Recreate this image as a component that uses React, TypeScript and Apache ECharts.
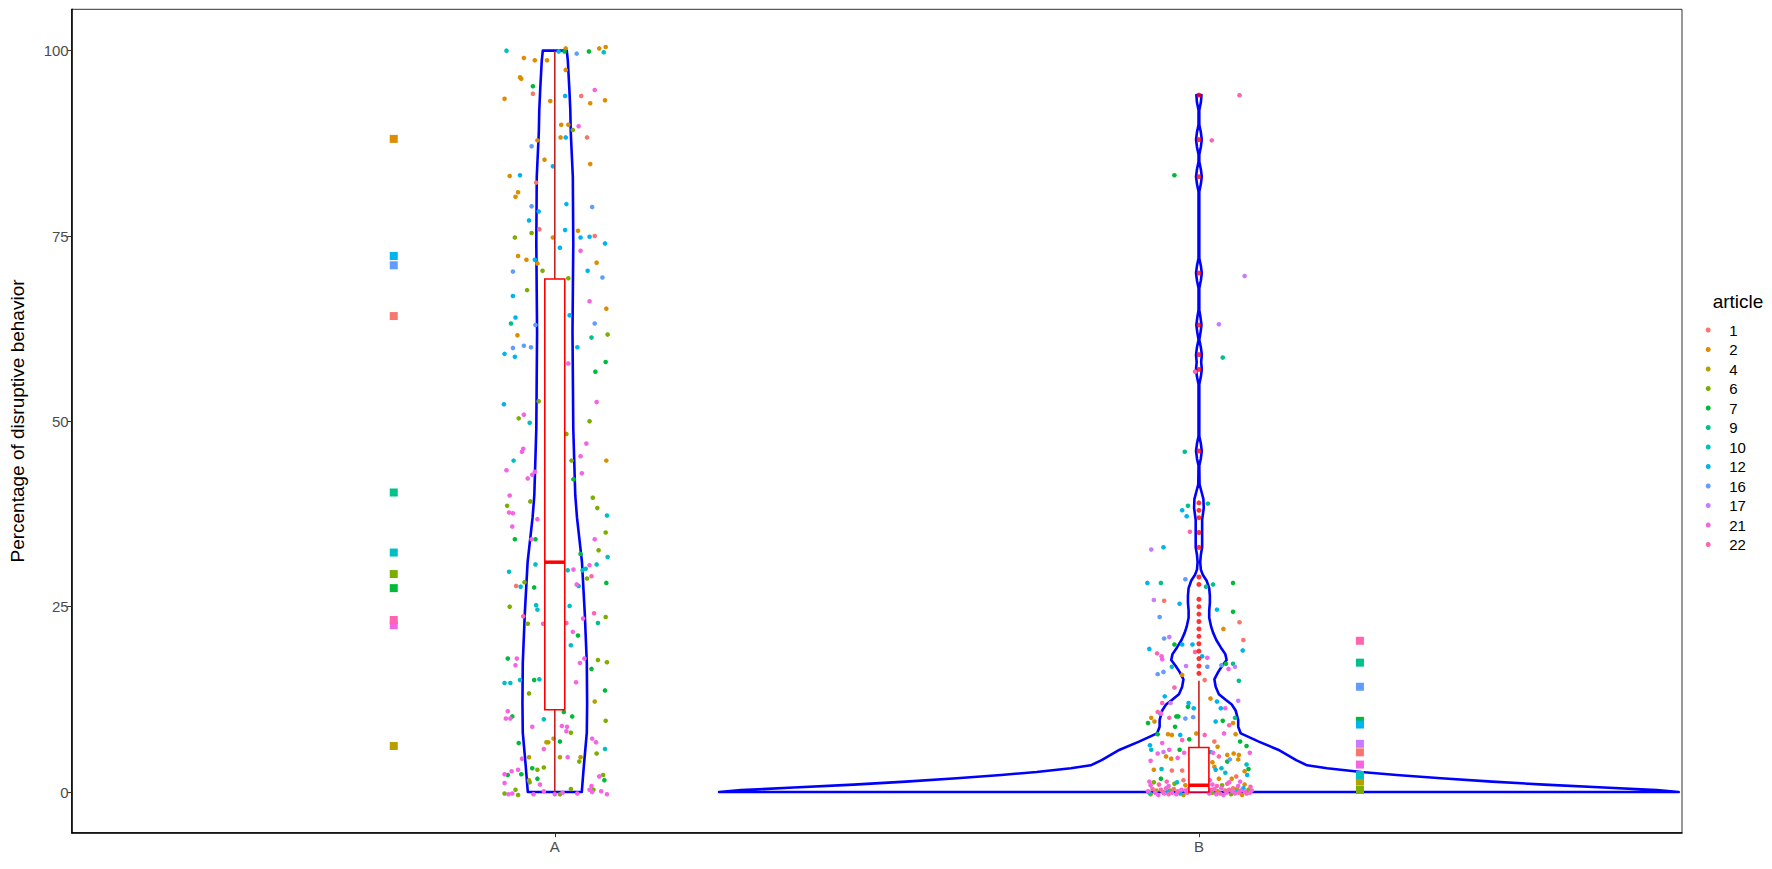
import React, { useEffect, useRef } from "react";
import * as echarts from "echarts";

// ---------- data ----------
const groups = ["A", "B"];
const articles = ["1", "2", "4", "6", "7", "9", "10", "12", "16", "17", "21", "22"];
const palette = ["#F8766D", "#DE8C00", "#B79F00", "#7CAE00", "#00BA38", "#00C08B", "#00BFC4", "#00B4F0", "#619CFF", "#C77CFF", "#F564E3", "#FF64B0"];
const yTicks = [0, 25, 50, 75, 100];

// per-article means (squares), in article order; null = no data in that phase
const meansA = [64.2, 88.1, 6.2, 29.4, 27.5, 40.4, 32.3, 72.3, 71.05, null, 22.5, 23.2];
const meansB = [5.35, 1.85, 1.4, 0.27, 9.6, 17.45, 2.3, 9.1, 14.2, 6.5, 3.7, 20.4];

// boxplot stats: [lower whisker, Q1, median, Q3, upper whisker]
const boxA = [0, 11.1, 31, 69.2, 100];
const boxB = [0, 0, 0.9, 6, 15];
const outliersB = [16, 17, 18, 19, 20, 21, 22, 23, 24, 25, 26, 28, 29, 33, 35, 37, 38, 39, 46, 57, 59, 63, 70, 83, 88, 94];

// violin profiles: [value, half width in x units]
const violinA = [
  [0, 0.0419], [3.4, 0.045], [8, 0.0497], [12, 0.0502], [17.4, 0.0497], [24, 0.0466], [31, 0.0422],
  [37, 0.0345], [40, 0.0318], [49, 0.0287], [62, 0.0275], [74, 0.0287], [83, 0.028], [89, 0.0248],
  [92, 0.0241], [95, 0.0225], [98.7, 0.0202], [100, 0.0186],
];
const violinB = [
  [0, 0.745], [0.25, 0.711], [0.6, 0.629], [1.0, 0.536], [1.4, 0.455], [1.85, 0.376], [2.3, 0.307],
  [2.7, 0.252], [3.2, 0.199], [3.6, 0.168], [4.3, 0.151], [5.0, 0.137], [5.7, 0.123], [6.8, 0.093],
  [7.9, 0.065], [8.8, 0.061], [9.7, 0.061], [11.0, 0.057], [11.8, 0.051], [12.4, 0.042], [13.2, 0.031],
  [14.2, 0.026], [15.2, 0.024], [16.2, 0.03], [17.0, 0.036], [17.8, 0.043], [18.6, 0.041], [19.5, 0.034],
  [20.5, 0.027], [21.5, 0.022], [22.3, 0.019], [23.5, 0.016], [24.5, 0.016], [25.5, 0.017], [26.5, 0.017],
  [27.5, 0.016], [28.5, 0.012], [29.3, 0.006], [30.0, 0.003], [31.0, 0.002], [32.0, 0.003], [33.0, 0.005],
  [34.5, 0.005], [36.7, 0.005], [38.3, 0.0075], [39.5, 0.007], [40.5, 0.004], [41.5, 0.001],
  [44.0, 0.0006], [45.0, 0.003], [46.0, 0.0045], [47.0, 0.003], [48.0, 0.0006],
  [55.0, 0.0006], [56.0, 0.003], [57.0, 0.0045], [58.0, 0.0035], [59.0, 0.0045], [60.0, 0.003], [61.0, 0.0006],
  [62.0, 0.0025], [63.0, 0.004], [64.0, 0.0025], [65.0, 0.0006],
  [68.0, 0.0006], [69.0, 0.003], [70.0, 0.0045], [71.0, 0.003], [72.0, 0.0006],
  [81.0, 0.0006], [82.0, 0.003], [83.0, 0.0045], [84.0, 0.003], [85.0, 0.0006],
  [86.0, 0.0006], [87.0, 0.003], [88.0, 0.0045], [89.0, 0.003], [90.0, 0.0006],
  [92.0, 0.0006], [93.0, 0.003], [94.0, 0.004],
];

// jittered observations: [x position, percentage, article]
const jitterA = [
  [0.925, 100.0, 10], [0.952, 99.0, 2], [0.969, 98.7, 2], [0.988, 98.7, 2], [1.006, 99.9, 12], [1.017, 100.3, 2], [1.015, 99.9, 7], [1.034, 99.6, 16], [1.053, 99.9, 7], [1.069, 100.3, 2], [1.079, 100.5, 2], [1.076, 99.8, 10],
  [0.946, 96.4, 2], [0.948, 96.2, 2], [0.966, 95.2, 7], [0.966, 94.2, 1], [0.922, 93.5, 2], [1.017, 97.4, 2], [1.016, 93.9, 12], [0.993, 93.2, 2], [1.041, 93.9, 1], [1.062, 94.7, 21], [1.055, 92.9, 2], [1.078, 93.3, 2],
  [1.010, 90.0, 2], [1.021, 90.0, 2], [1.028, 89.3, 6], [1.037, 89.8, 21], [1.009, 88.3, 2], [1.017, 88.3, 12], [1.050, 88.3, 1], [0.973, 87.9, 2], [0.964, 87.1, 16], [0.984, 85.3, 2], [0.997, 84.4, 12], [1.055, 84.7, 2],
  [0.930, 83.1, 2], [0.946, 83.2, 12], [0.971, 82.2, 1], [0.943, 80.9, 2], [0.939, 80.3, 2], [0.964, 79.0, 16], [0.975, 78.3, 12], [1.018, 79.3, 12], [1.058, 78.9, 16], [0.960, 77.1, 12], [0.964, 75.4, 6], [0.976, 75.9, 1],
  [0.938, 74.8, 6], [0.997, 74.8, 2], [1.016, 75.8, 12], [1.036, 75.7, 2], [1.040, 74.8, 12], [1.054, 74.9, 12], [1.062, 75.0, 1], [1.078, 74.0, 12], [1.008, 73.4, 12], [1.040, 73.0, 21], [0.943, 72.3, 2], [0.956, 71.8, 2],
  [0.969, 71.8, 12], [0.973, 71.3, 2], [1.065, 71.4, 2], [0.935, 70.2, 16], [0.981, 70.3, 6], [1.021, 69.3, 6], [1.051, 70.3, 12], [1.074, 69.4, 16], [0.957, 67.7, 6], [0.935, 66.9, 12], [1.054, 66.2, 21], [0.939, 64.0, 12],
  [0.932, 63.2, 9], [1.023, 64.3, 12], [1.062, 63.2, 16], [0.970, 63.0, 16],
  [0.942, 61.6, 2], [0.935, 59.9, 16], [0.952, 60.2, 16], [0.963, 60.0, 16], [0.922, 59.1, 12], [0.938, 58.7, 12], [1.035, 60.0, 12], [1.057, 61.3, 9], [1.021, 57.8, 21], [1.063, 56.7, 7],
  [0.921, 52.3, 12], [0.975, 52.7, 6], [1.065, 52.6, 21], [0.952, 50.9, 21], [0.944, 50.4, 6], [0.961, 49.8, 10], [1.054, 50.0, 6], [1.018, 48.3, 6], [1.049, 47.0, 21], [0.951, 46.3, 21],
  [0.949, 45.9, 21], [0.936, 44.7, 10], [1.040, 45.3, 21], [0.925, 43.4, 21], [1.026, 44.7, 6], [0.969, 43.2, 21], [0.965, 42.8, 21], [0.958, 42.3, 21], [1.042, 43.0, 21], [1.029, 42.2, 7],
  [0.930, 40.0, 21], [0.926, 38.6, 6], [0.962, 39.2, 6], [1.059, 39.7, 6], [1.066, 38.3, 6], [0.929, 37.7, 21], [0.935, 37.6, 21], [0.973, 36.8, 21], [0.934, 35.8, 21], [0.938, 34.1, 7],
  [0.964, 34.1, 21], [0.970, 34.1, 7], [1.062, 34.1, 21], [1.068, 32.6, 6], [1.040, 32.1, 7], [0.970, 30.7, 10], [0.929, 29.7, 10], [1.020, 29.9, 10], [1.029, 30.0, 21], [1.043, 29.9, 10],
  [1.048, 30.1, 10], [1.054, 30.6, 21], [1.065, 30.7, 10], [1.057, 29.1, 22], [1.050, 28.8, 6], [0.953, 28.3, 6], [0.940, 27.8, 1], [0.947, 27.7, 10], [0.968, 27.6, 7], [1.034, 28.0, 21],
  [1.037, 27.8, 10], [0.930, 25.0, 6], [0.971, 25.2, 10], [0.973, 24.6, 10], [1.023, 25.1, 10], [1.044, 23.4, 21], [1.061, 24.1, 22], [1.067, 22.8, 9], [0.951, 23.7, 22], [0.958, 22.7, 6],
  [0.982, 22.7, 22], [1.018, 22.8, 22], [1.028, 21.6, 21], [1.036, 21.1, 7], [1.025, 19.8, 10], [0.927, 18.0, 7], [0.941, 18.0, 21], [0.939, 17.1, 21], [1.067, 17.8, 6], [1.046, 18.0, 21],
  [1.039, 17.4, 21], [1.057, 16.6, 7], [0.922, 14.7, 10], [0.931, 14.7, 10], [0.946, 15.1, 10], [0.968, 15.1, 7], [0.976, 15.2, 10], [1.033, 14.8, 21], [0.960, 13.3, 6], [1.062, 12.2, 4],
  [0.927, 10.9, 21], [0.924, 9.9, 21], [0.931, 9.9, 21], [0.934, 10.2, 7], [0.983, 9.8, 10], [1.014, 10.8, 7], [1.027, 10.2, 7], [0.965, 8.8, 21], [1.011, 8.9, 21], [1.019, 8.8, 21],
  [1.079, 9.6, 6], [1.018, 8.2, 21], [1.025, 8.0, 6], [0.944, 6.6, 7], [0.987, 6.7, 4], [0.990, 6.7, 4], [0.998, 7.2, 4], [1.008, 6.8, 7], [1.058, 7.2, 21], [1.064, 6.7, 21],
  [1.065, 5.2, 6], [1.078, 5.8, 10], [0.983, 5.8, 21], [0.949, 4.5, 21], [0.960, 4.7, 4], [1.008, 4.7, 4], [1.020, 4.7, 21], [1.040, 4.7, 4], [1.038, 4.1, 6], [0.965, 3.2, 7],
  [0.973, 3.0, 6], [0.983, 3.3, 6], [0.977, 1.0, 21], [0.943, 3.0, 21], [0.948, 2.4, 7], [0.933, 2.8, 21], [0.922, 2.4, 21], [0.927, 2.3, 7], [0.922, 1.2, 21], [0.960, 1.6, 4],
  [0.961, 1.3, 6], [0.973, 1.8, 7], [0.939, 0.3, 6], [0.934, -0.2, 21], [0.928, -0.3, 21], [0.943, -0.4, 6], [0.922, -0.2, 6], [0.967, -0.3, 21], [0.983, 0.1, 21], [1.000, -0.3, 21],
  [1.008, -0.3, 6], [1.012, -0.1, 21], [1.025, 0.4, 6], [1.035, -0.2, 21], [1.069, 2.1, 21], [1.075, 2.3, 6], [1.077, 1.6, 7], [1.057, 0.8, 21], [1.054, 0.3, 21], [1.060, 0.3, 6],
  [1.058, 0.0, 21], [1.072, 0.1, 21], [1.081, -0.3, 21],
  [1.080, 65.2, 2], [1.082, 61.7, 6], [1.079, 58.0, 7], [1.080, 44.7, 2], [1.081, 37.3, 10], [1.079, 35.0, 6], [1.082, 31.7, 10], [1.080, 28.2, 7], [1.079, 23.6, 6], [1.081, 17.5, 6], [1.078, 13.7, 7],
];

const jitterB = [
  [2.063, 94.0, 22], [2.020, 87.9, 22], [1.962, 83.2, 7], [2.071, 69.6, 17], [2.031, 63.1, 17], [2.037, 58.6, 9], [1.994, 56.7, 22], [1.978, 45.9, 9], [1.983, 38.6, 9], [2.014, 38.9, 9],
  [1.974, 38.0, 12], [1.981, 37.2, 12], [1.986, 35.1, 22], [1.926, 32.7, 17], [1.945, 33.0, 12],
  [1.920, 28.2, 12], [1.941, 28.2, 9], [1.979, 28.7, 16], [2.011, 27.7, 9], [2.022, 28.0, 9], [2.053, 28.2, 7], [1.930, 25.9, 17], [1.946, 25.8, 1], [1.970, 25.4, 12], [1.939, 23.6, 16],
  [2.028, 24.6, 12], [2.053, 24.3, 7], [2.063, 22.9, 1], [2.038, 22.0, 2], [1.946, 20.7, 16], [1.954, 20.9, 17], [1.962, 19.9, 7], [1.923, 19.3, 12], [1.935, 18.7, 22], [1.942, 18.3, 21],
  [1.943, 17.9, 21], [1.974, 19.9, 12], [1.990, 19.9, 12], [1.994, 18.9, 22], [2.005, 18.3, 12], [2.013, 18.1, 21], [2.042, 17.3, 7], [2.035, 17.1, 16], [2.053, 17.3, 9], [1.980, 17.0, 17],
  [1.958, 16.9, 10], [2.013, 16.9, 16], [1.936, 15.9, 16], [1.945, 16.2, 16], [1.974, 15.8, 2], [2.009, 15.1, 1], [2.046, 16.6, 21], [2.056, 16.9, 17], [2.062, 15.0, 9], [1.962, 14.1, 22],
  [1.947, 12.9, 12], [1.984, 12.0, 12], [1.992, 11.3, 12], [2.018, 12.6, 2], [2.028, 12.2, 12], [2.034, 11.3, 12], [2.041, 11.3, 21], [1.956, 12.0, 17], [1.983, 11.5, 7], [1.965, 10.2, 7],
  [1.979, 9.9, 16], [1.926, 10.0, 2], [1.941, 10.6, 21], [2.056, 10.0, 9],
  [2.069, 20.5, 1], [2.068, 19.1, 12], [2.061, 12.3, 17], [2.074, 6.2, 7], [2.079, 5.3, 21], [2.074, 3.7, 10], [2.077, 3.1, 7], [2.071, 2.8, 2], [2.075, 2.3, 12], [2.057, 7.8, 2],
  [2.064, 6.8, 7], [2.062, 5.0, 2], [2.061, 4.4, 2], [2.053, 9.3, 2], [2.047, 9.0, 22], [2.037, 9.6, 7], [2.039, 7.9, 21], [2.026, 9.5, 12], [2.024, 6.8, 1], [2.029, 6.1, 2],
  [2.022, 5.3, 21], [2.031, 4.8, 22], [2.044, 5.0, 2], [2.048, 4.4, 16], [2.054, 5.2, 2], [2.044, 4.1, 7], [2.024, 3.4, 2], [2.035, 3.2, 10], [2.041, 2.6, 10], [2.031, 1.8, 2],
  [2.051, 1.8, 2], [2.058, 2.1, 1], [2.064, 1.4, 21], [2.028, 0.8, 22], [2.047, 1.3, 21], [2.053, 0.5, 1],
  [1.943, 12.0, 22], [1.936, 10.8, 22], [1.940, 10.6, 12], [1.921, 9.3, 7], [1.931, 9.5, 2], [1.954, 10.0, 22], [1.968, 10.2, 7], [1.963, 8.8, 7], [1.991, 10.1, 16], [1.936, 7.8, 7],
  [1.952, 7.8, 2], [1.958, 7.7, 2], [1.971, 7.7, 12], [1.996, 7.9, 2], [2.009, 7.7, 22], [1.924, 6.3, 12], [1.926, 5.7, 10], [1.943, 6.6, 21], [1.974, 7.0, 22], [1.985, 7.1, 7],
  [1.925, 4.2, 21], [1.936, 5.2, 21], [1.945, 5.4, 17], [1.954, 5.7, 21], [1.970, 5.7, 7], [1.977, 5.3, 21], [1.949, 4.8, 2], [1.957, 4.5, 2], [1.967, 4.6, 21], [1.930, 3.0, 2],
  [1.942, 3.1, 10], [1.958, 2.9, 1], [1.974, 2.9, 1], [1.941, 1.8, 7], [1.923, 1.4, 21], [1.930, 1.3, 6], [1.950, 1.4, 22], [1.966, 1.3, 10], [1.976, 1.6, 1], [2.017, 1.6, 21],
  [2.021, 4.0, 2], [2.026, 3.0, 12], [2.018, 5.4, 12],
  [1.925, 0.9, 21], [1.938, 1.0, 22], [1.953, 0.8, 21], [1.962, 1.1, 6], [1.979, 0.9, 2], [2.021, 1.0, 21], [2.036, 0.9, 6], [2.044, 1.1, 22], [2.061, 0.8, 21], [2.071, 1.0, 2], [2.080, 0.7, 22],
  [1.921, 0.1, 21], [1.925, -0.3, 6], [1.928, 0.4, 22], [1.932, -0.1, 21], [1.934, 0.2, 4], [1.937, -0.4, 21], [1.941, 0.3, 22], [1.944, 0.0, 2], [1.946, -0.2, 21], [1.949, 0.5, 21],
  [1.953, -0.3, 22], [1.955, 0.2, 6], [1.958, -0.1, 21], [1.961, 0.4, 1], [1.965, -0.3, 21], [1.967, 0.1, 22], [1.971, -0.2, 12], [1.973, 0.3, 21], [1.976, -0.4, 4], [1.979, 0.2, 21],
  [1.982, -0.1, 22], [1.984, 0.4, 21], [2.016, -0.2, 21], [2.019, 0.3, 22], [2.021, -0.1, 6], [2.024, 0.4, 21], [2.027, -0.3, 21], [2.029, 0.1, 2], [2.033, -0.2, 22], [2.035, 0.5, 21],
  [2.038, -0.4, 21], [2.041, 0.2, 1], [2.043, -0.1, 21], [2.047, 0.3, 22], [2.050, -0.3, 6], [2.052, 0.1, 21], [2.056, -0.2, 21], [2.059, 0.4, 4], [2.062, -0.1, 22], [2.065, 0.2, 21],
  [2.067, -0.4, 2], [2.071, 0.1, 21], [2.074, -0.2, 22], [2.077, 0.3, 6], [2.079, -0.1, 21], [2.082, 0.2, 21], [1.923, -0.1, 10], [1.951, 0.0, 12], [2.058, 0.0, 10], [2.069, 0.5, 12],
];

// ---------- layout / style ----------
const FONT = '"Liberation Sans", Arial, sans-serif';
const meanOffset = 0.25;
const boxHalf = 0.0155;

export default function App() {
  const ref = useRef<HTMLDivElement>(null);

  useEffect(() => {
    if (!ref.current) return;
    const chart = echarts.init(ref.current, null, { renderer: "svg" });
    const violins = [violinA, violinB];
    const boxes = [boxA, boxB];
    const means = [meansA, meansB];

    const articleSeries = articles.map((name, ai) => {
      const num = Number(name);
      const data: any[] = [];
      [jitterA, jitterB].forEach((arr) =>
        arr.forEach((p) => {
          if (p[2] === num) data.push([p[0], p[1]]);
        })
      );
      means.forEach((m, gi) => {
        const v = m[ai];
        if (v === null || v === undefined) return;
        const cx = gi + 1 + (gi === 0 ? -meanOffset : meanOffset);
        data.push({ value: [cx, v], symbol: "rect", symbolSize: 8 });
      });
      return {
        name,
        type: "scatter",
        data,
        symbol: "circle",
        symbolSize: 4.6,
        itemStyle: { color: palette[ai], opacity: 1 },
        z: 3,
        silent: true,
      };
    });

    const option: any = {
      animation: false,
      backgroundColor: "#ffffff",
      grid: {
        left: 71.7,
        right: 90,
        top: 9.3,
        bottom: 36.3,
        show: true,
        borderColor: "#333333",
        borderWidth: 1,
        backgroundColor: "transparent",
        outerBoundsMode: "none",
      },
      xAxis: {
        type: "value",
        min: 0.25,
        max: 2.75,
        splitLine: { show: false },
        axisLine: { show: true, onZero: false, lineStyle: { color: "#000", width: 1.5 } },
        axisTick: { show: true, customValues: [1, 2], length: 4.5, lineStyle: { color: "#333", width: 1 } },
        axisLabel: {
          customValues: [1, 2],
          formatter: (v: number) => groups[Math.round(v) - 1] ?? "",
          color: "#4D4D4D",
          fontSize: 15,
          fontFamily: FONT,
          margin: 6,
        },
      },
      yAxis: {
        type: "value",
        min: -5.49,
        max: 105.58,
        splitLine: { show: false },
        axisLine: { show: true, onZero: false, lineStyle: { color: "#000", width: 1.5 } },
        axisTick: { show: true, customValues: yTicks, length: 4.5, lineStyle: { color: "#333", width: 1 } },
        axisLabel: {
          customValues: yTicks,
          color: "#4D4D4D",
          fontSize: 15,
          fontFamily: FONT,
          margin: 3,
        },
        name: "Percentage of disruptive behavior",
        nameLocation: "middle",
        nameGap: 45,
        nameTextStyle: { color: "#000", fontSize: 19, fontFamily: FONT },
      },
      legend: {
        orient: "vertical",
        left: 1705.7,
        top: 320.25,
        padding: 0,
        itemGap: 0,
        itemWidth: 32,
        itemHeight: 5,
        icon: "circle",
        selectedMode: false,
        data: articles,
        textStyle: { fontSize: 15, color: "#000", fontFamily: FONT, lineHeight: 19.5 },
      },
      graphic: [
        {
          type: "text",
          x: 1712.7,
          y: 301.7,
          style: { text: "article", fill: "#000", font: `19px ${FONT}`, verticalAlign: "middle", align: "left" },
        },
      ],
      series: [
        {
          type: "custom",
          name: "violin",
          clip: true,
          silent: true,
          z: 1,
          data: [[1, 0], [2, 0]],
          encode: { x: 0, y: 1 },
          renderItem: (params: any, api: any) => {
            const prof = violins[params.dataIndex];
            const cx = api.value(0);
            const right = prof.map((p) => api.coord([cx + p[1], p[0]]));
            const left = prof
              .slice()
              .reverse()
              .map((p) => api.coord([cx - p[1], p[0]]));
            return {
              type: "polygon",
              shape: { points: right.concat(left) },
              style: { fill: "none", stroke: "#0000FF", lineWidth: 2.6, lineJoin: "round" },
            };
          },
        },
        ...articleSeries,
        {
          type: "custom",
          name: "box",
          clip: true,
          silent: true,
          z: 5,
          data: [[1, ...boxA], [2, ...boxB]],
          encode: { x: 0, y: [1, 2, 3, 4, 5] },
          renderItem: (params: any, api: any) => {
            const b = boxes[params.dataIndex];
            const cx = api.value(0);
            const pLow = api.coord([cx, b[0]]);
            const pQ1 = api.coord([cx, b[1]]);
            const pQ3 = api.coord([cx, b[3]]);
            const pHigh = api.coord([cx, b[4]]);
            const tl = api.coord([cx - boxHalf, b[3]]);
            const br = api.coord([cx + boxHalf, b[1]]);
            const ml = api.coord([cx - boxHalf, b[2]]);
            const mr = api.coord([cx + boxHalf, b[2]]);
            return {
              type: "group",
              children: [
                { type: "line", shape: { x1: pQ3[0], y1: pQ3[1], x2: pHigh[0], y2: pHigh[1] }, style: { stroke: "#C8201E", lineWidth: 1.6 } },
                { type: "line", shape: { x1: pQ1[0], y1: pQ1[1], x2: pLow[0], y2: pLow[1] }, style: { stroke: "#C8201E", lineWidth: 1.6 } },
                {
                  type: "rect",
                  shape: { x: tl[0], y: tl[1], width: br[0] - tl[0], height: br[1] - tl[1] },
                  style: { fill: "#ffffff", stroke: "#FF0000", lineWidth: 1.6 },
                },
                { type: "line", shape: { x1: ml[0], y1: ml[1], x2: mr[0], y2: mr[1] }, style: { stroke: "#FF0000", lineWidth: 3.5 } },
              ],
            };
          },
        },
        {
          type: "scatter",
          name: "outliers",
          silent: true,
          z: 6,
          symbol: "circle",
          symbolSize: 5,
          itemStyle: { color: "#FF0000" },
          data: outliersB.map((v) => [2, v]),
        },
      ],
    };
    chart.setOption(option);
    return () => chart.dispose();
  }, []);

  return (
    <div
      ref={ref}
      style={{ position: "fixed", left: 0, top: 0, width: 1772, height: 869, background: "#fff" }}
    />
  );
}
